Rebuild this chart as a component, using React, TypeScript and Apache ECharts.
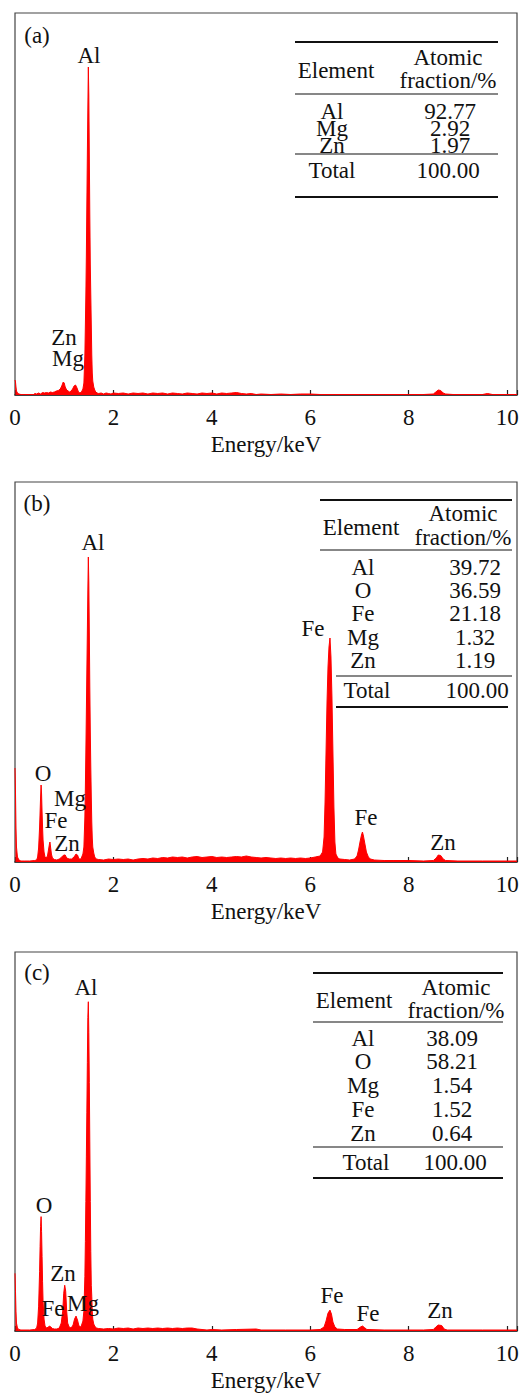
import React, { useEffect, useRef } from "react";
import * as echarts from "echarts";

// ---------- DATA ----------
const xTickLabels = ["0", "2", "4", "6", "8", "10"];
const axisName = "Energy/keV";
const panelTags = ["(a)", "(b)", "(c)"];

// EDS spectra: [energy keV, intensity (arbitrary units)]
const spectrumA: [number, number][] = [
  [0.0, 15], [0.01, 13], [0.02, 8], [0.03, 4], [0.05, 2], [0.08, 1], [0.12, 0.5], [0.2, 0.5], [0.3, 0.5], [0.38, 0.5],
  [0.4, 1.5], [0.44, 1], [0.48, 2], [0.52, 1], [0.56, 2.5], [0.6, 2], [0.64, 2.5], [0.68, 2], [0.72, 3], [0.76, 2.5],
  [0.8, 3], [0.84, 4], [0.88, 4.5], [0.92, 6], [0.95, 9], [0.98, 13], [1.0, 12], [1.02, 8], [1.05, 5], [1.08, 4],
  [1.11, 3], [1.14, 4], [1.17, 6], [1.2, 9], [1.23, 10], [1.26, 7], [1.29, 3], [1.32, 2], [1.35, 3], [1.38, 6],
  [1.4, 12], [1.42, 40], [1.43, 70], [1.44, 100], [1.45, 140], [1.46, 190], [1.47, 240], [1.48, 285], [1.49, 328],
  [1.5, 300], [1.51, 240], [1.52, 180], [1.53, 130], [1.54, 100], [1.55, 70], [1.56, 40], [1.57, 22], [1.58, 14],
  [1.6, 8], [1.62, 5], [1.64, 3], [1.67, 2], [1.7, 1.5], [1.75, 2], [1.8, 1], [1.85, 2], [1.9, 1.5], [1.95, 1],
  [2.0, 2], [2.1, 1.5], [2.2, 2], [2.3, 1], [2.4, 2], [2.5, 1.5], [2.6, 2], [2.7, 1], [2.8, 2], [2.9, 1.5],
  [3.0, 2], [3.1, 1], [3.2, 2], [3.3, 1.5], [3.4, 1], [3.5, 2], [3.6, 1.5], [3.7, 1], [3.8, 2], [3.9, 1.5],
  [4.0, 2], [4.1, 1], [4.2, 2], [4.3, 1.5], [4.4, 2], [4.5, 2.5], [4.6, 1.5], [4.7, 1], [4.8, 1.5], [4.9, 0.5],
  [5.0, 1], [5.2, 0.5], [5.4, 1], [5.6, 0.5], [5.8, 1], [6.0, 1], [6.2, 0.5], [6.5, 0.5], [7.0, 0.5], [7.5, 0.5],
  [8.0, 0.5], [8.3, 0.5], [8.5, 1], [8.55, 3], [8.6, 5], [8.65, 4.5], [8.7, 2], [8.75, 1], [8.9, 0.5], [9.5, 0.5],
  [9.6, 1.5], [9.7, 0.5], [10.2, 0.5],
];

const spectrumB: [number, number][] = [
  [0.0, 94], [0.01, 70], [0.02, 35], [0.03, 15], [0.05, 5], [0.08, 2], [0.12, 1], [0.2, 1], [0.3, 1], [0.4, 1.5],
  [0.44, 2], [0.46, 5], [0.48, 14], [0.5, 35], [0.51, 50], [0.52, 65], [0.53, 77], [0.54, 68], [0.55, 50], [0.56, 35],
  [0.57, 22], [0.59, 10], [0.61, 5], [0.63, 4], [0.66, 6], [0.68, 12], [0.7, 18], [0.71, 20], [0.72, 16], [0.74, 8],
  [0.76, 4], [0.8, 2.5], [0.85, 2], [0.9, 3], [0.95, 5], [0.99, 7], [1.02, 7], [1.05, 4], [1.1, 3], [1.15, 3],
  [1.2, 5], [1.24, 8], [1.27, 7], [1.3, 3], [1.34, 3], [1.38, 8], [1.4, 15], [1.42, 45], [1.43, 75], [1.44, 110],
  [1.45, 150], [1.46, 190], [1.47, 230], [1.48, 270], [1.49, 305], [1.5, 280], [1.51, 230], [1.52, 175], [1.53, 130],
  [1.54, 95], [1.55, 65], [1.56, 40], [1.57, 24], [1.58, 15], [1.6, 9], [1.62, 5], [1.65, 3], [1.7, 2.5], [1.8, 2],
  [1.9, 3], [2.0, 2.5], [2.1, 3], [2.2, 2.5], [2.3, 3], [2.4, 2], [2.5, 3], [2.6, 3.5], [2.7, 3], [2.8, 4],
  [2.9, 3.5], [3.0, 4.5], [3.1, 4], [3.2, 5], [3.3, 4.5], [3.4, 5], [3.5, 4], [3.6, 5], [3.7, 5.5], [3.8, 4.5],
  [3.9, 5], [4.0, 5.5], [4.1, 4.5], [4.2, 5], [4.3, 4.5], [4.4, 5], [4.5, 5.5], [4.6, 5], [4.7, 6], [4.8, 5],
  [4.9, 4.5], [5.0, 4], [5.1, 4.5], [5.2, 4], [5.3, 3.5], [5.4, 4], [5.5, 3.5], [5.6, 4], [5.7, 3.5], [5.8, 4],
  [5.9, 3.5], [6.0, 4], [6.1, 5], [6.2, 6], [6.25, 10], [6.28, 25], [6.3, 60], [6.32, 110], [6.34, 160], [6.36, 195],
  [6.38, 215], [6.4, 224], [6.42, 205], [6.44, 165], [6.46, 110], [6.48, 55], [6.5, 20], [6.52, 8], [6.56, 4],
  [6.6, 3], [6.7, 2.5], [6.8, 2], [6.9, 3], [6.95, 6], [6.98, 12], [7.01, 20], [7.04, 27], [7.06, 30], [7.08, 26],
  [7.11, 18], [7.14, 10], [7.18, 5], [7.22, 3], [7.3, 2], [7.5, 1.5], [7.7, 1.5], [8.0, 1.5], [8.3, 1], [8.5, 1.5],
  [8.56, 4], [8.6, 7], [8.65, 6.5], [8.7, 3], [8.75, 1.5], [9.0, 1], [9.5, 1], [10.0, 1], [10.2, 1],
];

const spectrumC: [number, number][] = [
  [0.0, 58], [0.01, 40], [0.02, 20], [0.03, 8], [0.05, 3], [0.08, 1.5], [0.12, 1], [0.3, 1], [0.4, 1.5], [0.44, 3],
  [0.46, 8], [0.48, 25], [0.5, 60], [0.51, 85], [0.52, 105], [0.53, 115], [0.54, 100], [0.55, 75], [0.56, 50],
  [0.57, 30], [0.59, 12], [0.61, 5], [0.64, 3], [0.68, 4], [0.7, 5], [0.73, 4], [0.76, 2.5], [0.8, 2], [0.85, 2],
  [0.9, 3], [0.94, 8], [0.97, 20], [0.99, 38], [1.01, 46], [1.03, 40], [1.05, 20], [1.07, 8], [1.1, 4], [1.14, 3],
  [1.18, 6], [1.21, 12], [1.24, 15], [1.27, 11], [1.3, 5], [1.34, 4], [1.38, 10], [1.4, 20], [1.42, 55], [1.43, 90],
  [1.44, 130], [1.45, 175], [1.46, 220], [1.47, 270], [1.48, 315], [1.49, 331], [1.5, 300], [1.51, 250], [1.52, 190],
  [1.53, 130], [1.54, 80], [1.55, 46], [1.56, 35], [1.57, 20], [1.58, 12], [1.6, 7], [1.62, 5], [1.65, 3], [1.7, 2.5],
  [1.8, 2], [1.9, 2.5], [2.0, 2], [2.1, 3], [2.2, 2.5], [2.3, 3], [2.4, 2], [2.5, 3], [2.6, 2.5], [2.7, 3],
  [2.8, 2.5], [2.9, 3], [3.0, 2.5], [3.1, 3], [3.2, 2.5], [3.3, 3], [3.4, 2.5], [3.5, 3], [3.6, 3], [3.7, 2],
  [3.8, 1.5], [3.9, 1], [4.0, 1.5], [4.2, 1], [4.5, 1.5], [4.9, 2], [5.0, 1], [5.5, 1], [6.0, 1], [6.2, 1.5],
  [6.28, 4], [6.32, 10], [6.36, 18], [6.4, 21], [6.43, 17], [6.46, 9], [6.5, 4], [6.55, 2], [6.7, 1.5], [6.95, 1.5],
  [7.02, 4], [7.06, 5], [7.1, 3.5], [7.15, 1.5], [7.5, 1], [8.0, 1], [8.3, 1], [8.5, 1.5], [8.55, 4], [8.6, 6],
  [8.67, 5.5], [8.72, 2], [8.78, 1], [9.5, 1], [10.2, 1],
];

// Tables
const tableHeader = ["Element", "Atomic", "fraction/%"];
const totalRow = ["Total", "100.00"];
const elementsA = ["Al", "Mg", "Zn"];
const fractionsA = ["92.77", "2.92", "1.97"];
const elementsB = ["Al", "O", "Fe", "Mg", "Zn"];
const fractionsB = ["39.72", "36.59", "21.18", "1.32", "1.19"];
const elementsC = ["Al", "O", "Mg", "Fe", "Zn"];
const fractionsC = ["38.09", "58.21", "1.54", "1.52", "0.64"];

// Peak labels
const peaksA = ["Al", "Zn", "Mg"];
const peaksB = ["Al", "O", "Mg", "Fe", "Zn", "Fe", "Fe", "Zn"];
const peaksC = ["Al", "O", "Zn", "Fe", "Mg", "Fe", "Fe", "Zn"];

// ---------- LAYOUT ----------
const FONT = "Liberation Serif, Times New Roman, serif";
const FS = 23;
const grids = [
  { top: 13, height: 382, ymax: 382 },
  { top: 482, height: 380, ymax: 380 },
  { top: 952, height: 381, ymax: 381 },
];
const tagPos = [[37, 35], [37, 503], [37, 972]];
const peakPosA = [[89, 55], [64, 337], [68, 358]];
const peakPosB = [[93, 542], [43, 773], [70, 798], [56, 820], [67, 843], [313, 628], [366, 817], [443, 842]];
const peakPosC = [[86, 987], [44, 1205], [63, 1273], [53, 1308], [83, 1303], [332, 1295], [368, 1313], [440, 1310]];

const tableLayouts = [
  {
    x1: 295, x2: 498, top: 42, head: 94, tot: 154, bot: 197, totX1: 295, botX1: 295, botX2: 498,
    elemHX: 336, elemHY: 70, valHX: 448, atomY: 57, fracY: 80,
    elemX: 332, valX: 450, rows: [111, 128, 145], totY: 170, totElemX: 332, totValX: 448, lh: 16,
  },
  {
    x1: 320, x2: 512, top: 500, head: 550, tot: 676, bot: 707, totX1: 336, botX1: 336, botX2: 508,
    elemHX: 361, elemHY: 527, valHX: 463, atomY: 513, fracY: 537,
    elemX: 363, valX: 475, rows: [567, 590, 613, 637, 660], totY: 690, totElemX: 367, totValX: 477, lh: 22,
  },
  {
    x1: 313, x2: 503, top: 973, head: 1022, tot: 1147, bot: 1178, totX1: 313, botX1: 313, botX2: 503,
    elemHX: 354, elemHY: 1000, valHX: 456, atomY: 987, fracY: 1010,
    elemX: 363, valX: 452, rows: [1038, 1061, 1085, 1109, 1133], totY: 1162, totElemX: 366, totValX: 455, lh: 22,
  },
];

function txt(text: string, x: number, y: number, lh?: number) {
  const style: any = {
    text,
    fill: "#111",
    fontFamily: FONT,
    fontSize: FS,
    align: "center",
    verticalAlign: "middle",
  };
  if (lh) style.lineHeight = lh;
  return { type: "text", x, y, z: 10, style };
}
function hline(x1: number, x2: number, y: number, w: number) {
  return {
    type: "line",
    z: 10,
    shape: { x1, y1: y, x2, y2: y },
    style: { stroke: "#111", lineWidth: w },
  };
}

function buildTable(i: number, elements: string[], fractions: string[]) {
  const L = tableLayouts[i];
  const out: any[] = [
    hline(L.x1, L.x2, L.top, 2),
    hline(L.x1, L.x2, L.head, 1.2),
    hline(L.totX1, L.x2, L.tot, 1.2),
    hline(L.botX1, L.botX2, L.bot, 2),
    txt(tableHeader[0], L.elemHX, L.elemHY),
    txt(tableHeader[1], L.valHX, L.atomY, 20),
    txt(tableHeader[2], L.valHX, L.fracY, 20),
    txt(totalRow[0], L.totElemX, L.totY),
    txt(totalRow[1], L.totValX, L.totY),
  ];
  elements.forEach((e, k) => {
    out.push(txt(e, L.elemX, L.rows[k], L.lh));
    out.push(txt(fractions[k], L.valX, L.rows[k], L.lh));
  });
  return out;
}

export default function App() {
  const ref = useRef<HTMLDivElement>(null);
  useEffect(() => {
    if (!ref.current) return;
    const chart = echarts.init(ref.current, null, { renderer: "svg" });
    const spectra = [spectrumA, spectrumB, spectrumC];

    const graphic: any[] = [];
    panelTags.forEach((t, i) => graphic.push(txt(t, tagPos[i][0], tagPos[i][1])));
    peaksA.forEach((p, k) => graphic.push(txt(p, peakPosA[k][0], peakPosA[k][1], 20)));
    peaksB.forEach((p, k) => graphic.push(txt(p, peakPosB[k][0], peakPosB[k][1], 20)));
    peaksC.forEach((p, k) => graphic.push(txt(p, peakPosC[k][0], peakPosC[k][1], 20)));
    graphic.push(...buildTable(0, elementsA, fractionsA));
    graphic.push(...buildTable(1, elementsB, fractionsB));
    graphic.push(...buildTable(2, elementsC, fractionsC));

    chart.setOption({
      animation: false,
      backgroundColor: "#fff",
      textStyle: { fontFamily: FONT },
      grid: grids.map((g) => ({
        left: 15,
        width: 502,
        top: g.top,
        height: g.height,
        show: true,
        borderColor: "#444",
        borderWidth: 1.2,
        backgroundColor: "transparent",
      })),
      xAxis: grids.map((g, i) => ({
        type: "value",
        gridIndex: i,
        min: 0,
        max: 10.2,
        interval: 2,
        name: axisName,
        nameLocation: "middle",
        nameGap: 38,
        nameTextStyle: { fontFamily: FONT, fontSize: 23, color: "#111" },
        axisLine: { show: true, onZero: false, lineStyle: { color: "#222", width: 1.5 } },
        axisTick: { show: true, inside: true, length: 5, lineStyle: { color: "#222", width: 1.2 } },
        axisLabel: {
          fontFamily: FONT,
          fontSize: 23,
          color: "#111",
          margin: 11,
          formatter: (v: number) => {
            const idx = Math.round(v / 2);
            return Math.abs(v - idx * 2) < 1e-6 ? xTickLabels[idx] ?? "" : "";
          },
        },
        splitLine: { show: false },
      })),
      yAxis: grids.map((g, i) => ({
        type: "value",
        gridIndex: i,
        min: 0,
        max: g.ymax,
        axisLine: { show: false },
        axisTick: { show: false },
        axisLabel: { show: false },
        splitLine: { show: false },
      })),
      series: spectra.map((d, i) => ({
        type: "line",
        xAxisIndex: i,
        yAxisIndex: i,
        data: d,
        symbol: "none",
        smooth: false,
        lineStyle: { color: "#ff0000", width: 1 },
        areaStyle: { color: "#ff0000", opacity: 1 },
        z: 2,
      })),
      graphic,
    });
    return () => chart.dispose();
  }, []);
  return (
    <div
      ref={ref}
      style={{ position: "absolute", left: 0, top: 0, width: 522, height: 1393 }}
    />
  );
}
